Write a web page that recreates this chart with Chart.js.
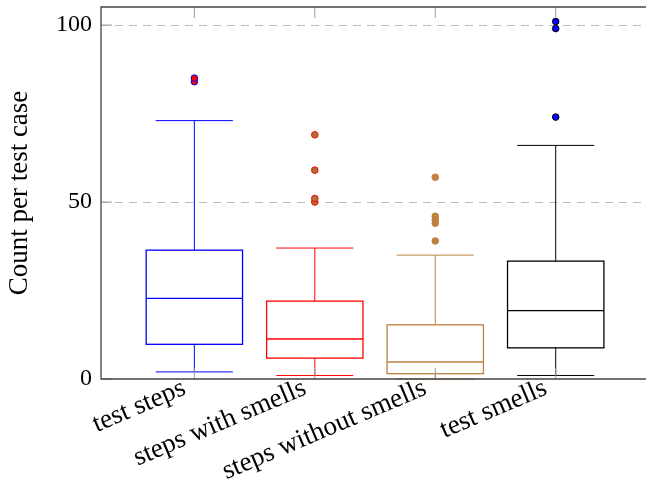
<!DOCTYPE html>
<html>
<head>
<meta charset="utf-8">
<script src="https://cdn.jsdelivr.net/npm/chart.js@4.4.0/dist/chart.umd.min.js"></script>
<style>
  html, body { margin: 0; padding: 0; background: #fff; }
  #wrap { width: 649px; height: 489px; }
</style>
</head>
<body>
<div id="wrap"><canvas id="chart"></canvas></div>
<script>
const categories = ['test steps', 'steps with smells', 'steps without smells', 'test smells'];
const whiskerLow = [2, 1, 0, 1];
const q1 = [9.8, 5.9, 1.5, 8.8];
const medians = [22.8, 11.3, 4.8, 19.3];
const q3 = [36.4, 22, 15.3, 33.3];
const whiskerHigh = [73, 37, 35, 66];
const outliers = [
  [84, 85],
  [50, 51, 59, 69],
  [39, 44, 45, 46, 57],
  [74, 99, 101]
];
const yTicks = [0, 50, 100];

const lineColors = ['#0000ff', '#ff0000', '#bf8040', '#000000'];
const markFill = ['#ff0000', '#a8743c', '#bf8040', '#0000ff'];
const markStroke = ['#0000ff', '#ff0000', '#bf8040', '#000000'];

const serif = 'Liberation Serif';

// boxes, medians and whiskers, drawn through the chart's scales
const boxPlot = {
  id: 'boxPlot',
  beforeDatasetsDraw(chart) {
    const { ctx, scales: { x, y } } = chart;
    ctx.save();
    categories.forEach((c, i) => {
      const cx = x.getPixelForValue(i + 1);
      const bl = x.getPixelForValue(i + 1 - 0.4);
      const br = x.getPixelForValue(i + 1 + 0.4);
      const wl = x.getPixelForValue(i + 1 - 0.32);
      const wr = x.getPixelForValue(i + 1 + 0.32);
      const yq1 = y.getPixelForValue(q1[i]);
      const yq3 = y.getPixelForValue(q3[i]);
      const ym = y.getPixelForValue(medians[i]);
      const ylo = y.getPixelForValue(whiskerLow[i]);
      const yhi = y.getPixelForValue(whiskerHigh[i]);
      ctx.strokeStyle = lineColors[i];
      ctx.lineWidth = 1;
      ctx.beginPath();
      ctx.moveTo(cx, yq3); ctx.lineTo(cx, yhi);
      ctx.moveTo(wl, yhi); ctx.lineTo(wr, yhi);
      ctx.moveTo(cx, yq1); ctx.lineTo(cx, ylo);
      ctx.moveTo(wl, ylo); ctx.lineTo(wr, ylo);
      ctx.stroke();
      ctx.lineWidth = 1.3;
      ctx.strokeRect(bl, yq3, br - bl, yq1 - yq3);
      ctx.beginPath();
      ctx.moveTo(bl, ym); ctx.lineTo(br, ym);
      ctx.stroke();
    });
    ctx.restore();
  }
};

// axis frame with inner tick marks
const frame = {
  id: 'frame',
  afterDraw(chart) {
    const { ctx, chartArea: a, scales: { x, y } } = chart;
    ctx.save();
    ctx.strokeStyle = '#999';
    ctx.lineWidth = 1;
    ctx.beginPath();
    x.ticks.forEach(t => {
      const px = x.getPixelForValue(t.value);
      ctx.moveTo(px, a.top); ctx.lineTo(px, a.top + 11);
      ctx.moveTo(px, a.bottom); ctx.lineTo(px, a.bottom - 11);
    });
    y.ticks.forEach(t => {
      const py = y.getPixelForValue(t.value);
      ctx.moveTo(a.left, py); ctx.lineTo(a.left + 11, py);
    });
    ctx.stroke();
    ctx.strokeStyle = '#444';
    ctx.lineWidth = 1.3;
    ctx.beginPath();
    ctx.moveTo(a.right + 2, a.top);
    ctx.lineTo(a.left, a.top);
    ctx.lineTo(a.left, a.bottom);
    ctx.lineTo(a.right + 2, a.bottom);
    ctx.stroke();
    ctx.restore();
  }
};

new Chart(document.getElementById('chart'), {
  type: 'scatter',
  data: {
    datasets: outliers.map((vals, i) => ({
      label: categories[i],
      data: vals.map(v => ({ x: i + 1, y: v })),
      pointRadius: 3.3,
      pointBorderWidth: 1,
      backgroundColor: markFill[i],
      borderColor: markStroke[i]
    }))
  },
  options: {
    responsive: true,
    maintainAspectRatio: false,
    animation: false,
    layout: { padding: { top: 7, left: 0, right: 0, bottom: 0 } },
    plugins: { legend: { display: false }, tooltip: { enabled: false } },
    scales: {
      x: {
        type: 'linear',
        min: 0.225,
        max: 4.733,
        afterBuildTicks: s => { s.ticks = categories.map((c, i) => ({ value: i + 1 })); },
        afterFit: s => {
          s.height = 110;
          s.paddingLeft = 0; s.paddingRight = 0; s.paddingTop = 0; s.paddingBottom = 0;
        },
        grid: { display: false, drawTicks: false },
        border: { display: false },
        ticks: {
          autoSkip: false,
          minRotation: 23,
          maxRotation: 23,
          labelOffset: -10,
          padding: 2,
          color: '#000',
          font: { family: serif, size: 27, lineHeight: 0.5 },
          callback: v => categories[Math.round(v) - 1]
        }
      },
      y: {
        min: 0,
        max: 105.1,
        afterBuildTicks: s => { s.ticks = yTicks.map(v => ({ value: v })); },
        afterFit: s => {
          s.width = 101;
          s.paddingLeft = 0; s.paddingRight = 0; s.paddingTop = 0; s.paddingBottom = 0;
        },
        grid: {
          drawTicks: false,
          lineWidth: 1,
          color: c => (c.tick && c.tick.value === 0) ? 'rgba(0,0,0,0)' : '#bbbbbb'
        },
        border: { display: false, dash: [8, 6] },
        ticks: { padding: 9, color: '#000', font: { family: serif, size: 24 } },
        title: {
          display: true,
          text: 'Count per test case',
          color: '#000',
          font: { family: serif, size: 27 },
          padding: { top: 4, bottom: 4 }
        }
      }
    }
  },
  plugins: [boxPlot, frame]
});
</script>
</body>
</html>
